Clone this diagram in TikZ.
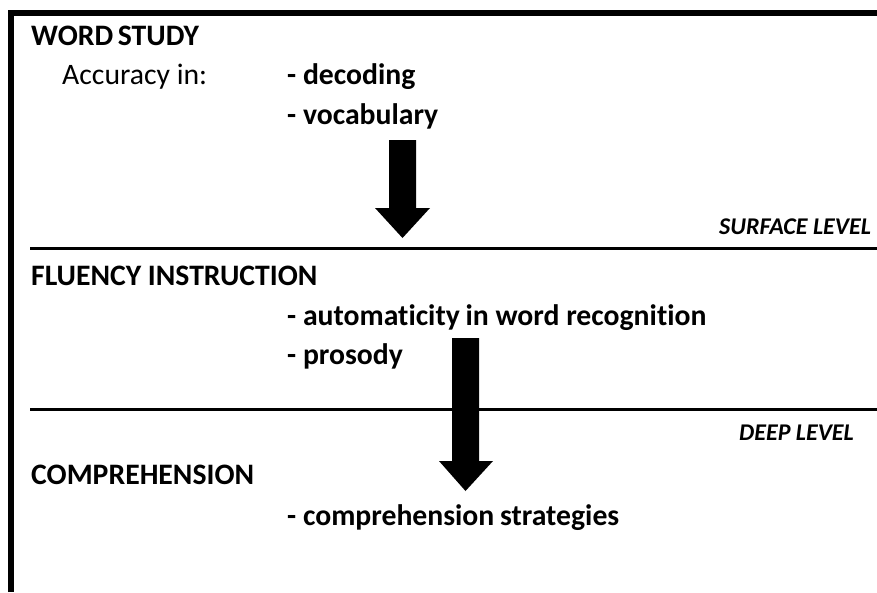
\documentclass[tikz,border=0pt]{standalone}
\usepackage{fontspec}
\setmainfont[Ligatures=NoCommon]{Carlito}
\begin{document}
\begin{tikzpicture}[x=1pt,y=-1pt,
  txt/.style={anchor=base west,inner sep=0pt,font=\fontsize{29.7}{36}\selectfont\bfseries},
  plain/.style={anchor=base west,inner sep=0pt,font=\fontsize{29.7}{36}\selectfont},
  lvl/.style={anchor=base west,inner sep=0pt,font=\fontsize{24}{29}\selectfont\bfseries\itshape},
  divider/.style={line width=3pt},
  blockarrow/.style={fill=black}]
\useasboundingbox (0,0) rectangle (877,592);
% border
\draw[line width=6pt,line join=miter] (11,592) -- (11,13) -- (877,13);
% dividers
\draw[divider] (30,248) -- (877,248);
\draw[divider] (30,409) -- (877,409);
% texts
\node[txt] (ws) at (31,45) {WORD\hspace{-2pt} STUDY};
\node[plain] (acc) at (62,84) {Accuracy in:};
\node[txt] (dec) at (287,84) {- decoding};
\node[txt] (voc) at (287,124) {- vocabulary};
\node[lvl] (surf) at (719,234) {SURFACE LEVEL};
\node[txt] (flu) at (31,285) {FLUENCY INSTRUCTION};
\node[txt] (aut) at (287,325) {- automaticity\hspace{-1pt} in word recognition};
\node[txt] (pro) at (287,364) {- prosody};
\node[lvl] (deep) at (739,440) {DEEP LEVEL};
\node[txt] (comp) at (31,484) {COMPREHENSION};
\node[txt] (cs) at (287,525) {- comprehension\hspace{-1pt} strategies};
% block arrows
\fill[blockarrow] (389,140) -- (416,140) -- (416,208) -- (430,208) -- (402.5,238) -- (375,208) -- (389,208) -- cycle;
\fill[blockarrow] (452,338) -- (479,338) -- (479,461) -- (493,461) -- (465.5,491) -- (439,461) -- (452,461) -- cycle;
\end{tikzpicture}
\end{document}
